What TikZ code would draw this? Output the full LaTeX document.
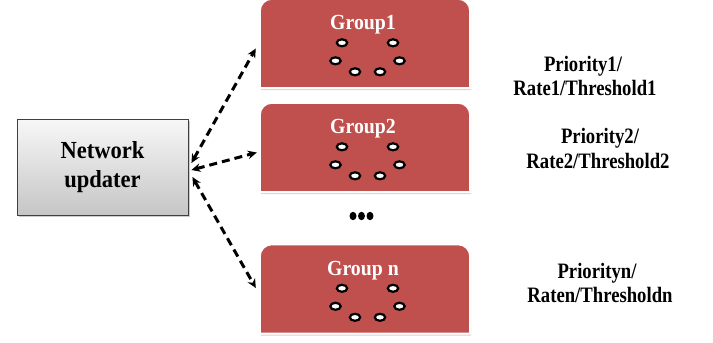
\documentclass[tikz,border=0pt]{standalone}
\usepackage{fontspec}
\setmainfont{Liberation Serif}
\newfontfamily\lblfont[FakeStretch=0.85]{Liberation Serif}
\newfontfamily\grpfont[FakeStretch=0.92]{Liberation Serif}
\usetikzlibrary{arrows.meta,shadows,calc}
\definecolor{grpred}{HTML}{C0504D}
\definecolor{nuborder}{HTML}{3F3F3F}
\tikzset{
  grp/.style={rectangle, minimum width=210, minimum height=89, inner sep=0pt},
  grpshape/.style={fill=grpred, draw=white, line width=2pt,
    drop shadow={shadow xshift=1pt, shadow yshift=-2pt, opacity=0.35}},
  grptitle/.style={anchor=base, text=white, font=\grpfont\fontsize{21.5}{24}\selectfont\bfseries, inner sep=0pt},
  ringdot/.style={draw=black, fill=white, line width=2.2pt},
  lbl/.style={anchor=base, font=\lblfont\fontsize{22}{24}\selectfont\bfseries, inner sep=0pt},
  link/.style={dashed, dash pattern=on 8pt off 5pt, line width=3pt,
    {Stealth[length=9pt,width=8.5pt]}-{Stealth[length=9pt,width=8.5pt]}},
  nubox/.style={rectangle, draw=nuborder, line width=0.9pt, top color=gray!6, bottom color=gray!45,
    minimum width=171, minimum height=96, align=center,
    font=\grpfont\fontsize{24.5}{29}\selectfont\bfseries,
    drop shadow={shadow xshift=1.5pt, shadow yshift=-2pt, opacity=0.4}}
}
\newcommand\grpdraw[1]{%
  \path[grpshape] (#1.west) [rounded corners=12pt] -- (#1.north west) -- (#1.north east) -- (#1.east)
    [sharp corners] -- (#1.south east) -- (#1.south west) -- cycle;
  \foreach \dx/\dy in {-25.5/44, 25.5/44, -32/62, 32/62, -12.5/73, 12.5/73}
    \draw[ringdot] ($(#1.north)+(\dx+2.5,\dy)$) ellipse [x radius=5.2, y radius=3.5];
}
\begin{document}
\begin{tikzpicture}[x=1pt, y=-1pt]
  \useasboundingbox (0,0) rectangle (713,343);

  % groups
  \node[grp] (g1) at (365,43.5) {};
  \node[grp] (g2) at (365,147.5) {};
  \node[grp] (gn) at (365,289) {};
  \grpdraw{g1}
  \grpdraw{g2}
  \grpdraw{gn}
  \node[grptitle] (t1) at (363,29) {Group1};
  \node[grptitle] (t2) at (363,133) {Group2};
  \node[grptitle] (tn) at (363,275) {Group n};

  % ellipsis
  \foreach \x in {353,361.5,370}
    \fill ($(\x,216)$) ellipse [x radius=3.5, y radius=4.2];

  % network updater
  \node[nubox] (nu) at (102.5,167) {Network\\updater};

  % connectors
  \draw[link] ($(nu.east)+(3,-4)$) -- ($(g1.west)+(-4,5)$);
  \draw[link] ($(nu.east)+(3,3)$) -- ($(g2.west)+(-3,5)$);
  \draw[link] ($(nu.east)+(4,10)$) -- ($(gn.west)+(-4,-1)$);

  % labels
  \node[lbl] (p1) at (583,71) {Priority1/};
  \node[lbl] (r1) at (585,95) {Rate1/Threshold1};
  \node[lbl] (p2) at (600,143) {Priority2/};
  \node[lbl] (r2) at (598,168) {Rate2/Threshold2};
  \node[lbl] (pn) at (597,278) {Priorityn/};
  \node[lbl] (rn) at (600,302) {Raten/Thresholdn};
\end{tikzpicture}
\end{document}
